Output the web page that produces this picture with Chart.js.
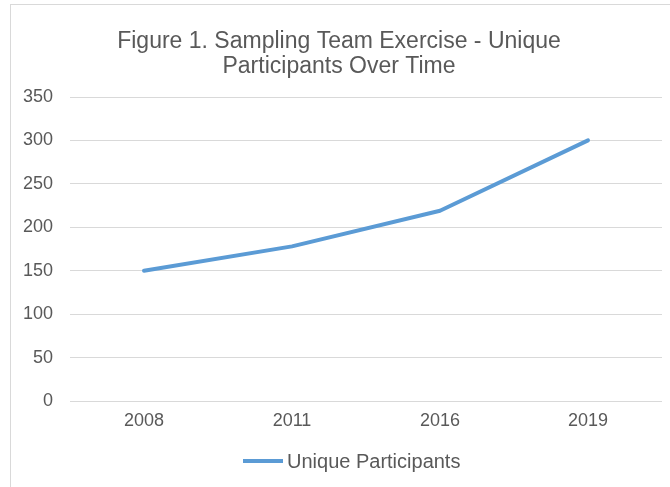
<!DOCTYPE html>
<html>
<head>
<meta charset="utf-8">
<script src="https://cdn.jsdelivr.net/npm/chart.js@4/dist/chart.umd.min.js"></script>
<style>
  html, body { margin: 0; padding: 0; background: #ffffff; overflow: hidden; }
  #frame { position: absolute; left: 10px; top: 4px; width: 720px; height: 540px; border: 1px solid #d9d9d9; box-sizing: border-box; }
  #wrap { position: absolute; left: 0; top: 0; width: 670px; height: 487px; }
</style>
</head>
<body>
<div id="frame"></div>
<div id="wrap"><canvas id="c" width="670" height="487"></canvas></div>
<script>
const categories = ["2008", "2011", "2016", "2019"];
const uniqueParticipants = [150, 178, 219, 300];
const seriesName = "Unique Participants";
const titleLines = ["Figure 1. Sampling Team Exercise - Unique", "Participants Over Time"];
const yTicks = [0, 50, 100, 150, 200, 250, 300, 350];

const FONT = "'Liberation Sans', Arial, sans-serif";
const TEXT = "#595959";

// Legend drawn as line sample + label, positioned like the reference
const lineLegend = {
  id: "lineLegend",
  afterDraw(chart) {
    const ctx = chart.ctx;
    const ds = chart.data.datasets[0];
    const y = 461;
    const x0 = 243, x1 = 283;
    ctx.save();
    ctx.strokeStyle = ds.borderColor;
    ctx.lineWidth = ds.borderWidth;
    ctx.lineCap = "butt";
    ctx.beginPath();
    ctx.moveTo(x0, y);
    ctx.lineTo(x1, y);
    ctx.stroke();
    ctx.fillStyle = TEXT;
    ctx.font = "20px " + FONT;
    ctx.textAlign = "left";
    ctx.textBaseline = "middle";
    ctx.fillText(ds.label, x1 + 4, y + 1);
    ctx.restore();
  }
};

new Chart(document.getElementById("c"), {
  type: "line",
  data: {
    labels: categories,
    datasets: [{
      label: seriesName,
      data: uniqueParticipants,
      borderColor: "#5B9BD5",
      backgroundColor: "#5B9BD5",
      borderWidth: 4,
      borderCapStyle: "round",
      borderJoinStyle: "round",
      pointRadius: 0,
      pointHoverRadius: 0,
      tension: 0,
      fill: false
    }]
  },
  options: {
    responsive: false,
    animation: false,
    layout: { padding: { left: 16, right: 8, top: 0, bottom: 46 } },
    plugins: {
      title: {
        display: true,
        text: titleLines,
        color: TEXT,
        font: { family: FONT, size: 23, weight: "normal", lineHeight: 1.087 },
        padding: { top: 29, bottom: 18 }
      },
      legend: { display: false },
      tooltip: { enabled: false }
    },
    scales: {
      x: {
        type: "category",
        offset: true,
        grid: { display: false, drawTicks: false },
        border: { display: false },
        ticks: { color: TEXT, font: { family: FONT, size: 18 }, padding: 9 },
        afterFit: (s) => { s.height = 40; }
      },
      y: {
        min: 0,
        max: 350,
        afterBuildTicks: (s) => { s.ticks = yTicks.map(v => ({ value: v })); },
        grid: { color: "#d9d9d9", lineWidth: 1, drawTicks: false },
        border: { display: false },
        ticks: { color: TEXT, font: { family: FONT, size: 18 }, padding: 17 },
        afterFit: (s) => { s.width = 54; }
      }
    }
  },
  plugins: [lineLegend]
});
</script>
</body>
</html>
